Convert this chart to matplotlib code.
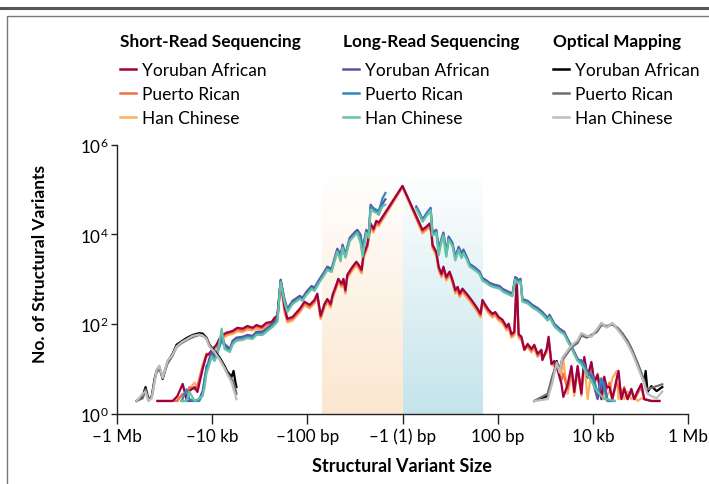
import numpy as np
import matplotlib
matplotlib.use('Agg')
import matplotlib.pyplot as plt
from matplotlib.lines import Line2D

plt.rcParams['font.family'] = ['Lato', 'DejaVu Sans']
plt.rcParams['mathtext.fontset'] = 'custom'
plt.rcParams['mathtext.rm'] = 'Lato'
plt.rcParams['mathtext.it'] = 'Lato:italic'
plt.rcParams['mathtext.bf'] = 'Lato:bold'

# ---------------- data ----------------
# x: signed log10 of structural-variant size in bp (deletions negative)
# y: log10 of number of structural variants

# Short-read sequencing
sr_x = [-5.15, -5.00, -4.83, -4.73, -4.62, -4.54, -4.48, -4.37, -4.31, -4.20,
        -4.12, -4.06, -3.99, -3.91, -3.85, -3.78, -3.70, -3.63, -3.57, -3.47,
        -3.36, -3.26, -3.15, -3.07, -2.96, -2.86, -2.75, -2.69, -2.63, -2.56,
        -2.48, -2.42, -2.31, -2.16, -2.06, -1.95, -1.85, -1.79, -1.72, -1.64,
        -1.58, -1.51, -1.47, -1.39, -1.35, -1.28, -1.24, -1.20, -1.16, -1.05,
        -0.97, -0.92, -0.86, -0.82, -0.74, -0.67, -0.61, -0.55, -0.50, 0.00,
        0.42, 0.50, 0.57, 0.61, 0.63, 0.71, 0.76, 0.82, 0.86, 0.92,
        0.99, 1.05, 1.11, 1.16, 1.20, 1.26, 1.30, 1.37, 1.45, 1.51,
        1.58, 1.64, 1.68, 1.74, 1.81, 1.89, 1.95, 2.02, 2.10, 2.19,
        2.23, 2.29, 2.35, 2.40, 2.44, 2.50, 2.56, 2.63, 2.71, 2.77,
        2.84, 2.92, 2.94, 3.03, 3.07, 3.13, 3.19, 3.26, 3.34, 3.38,
        3.47, 3.55, 3.61, 3.68, 3.76, 3.82, 3.89, 3.97, 4.03, 4.10,
        4.18, 4.24, 4.29, 4.35, 4.41, 4.50, 4.54, 4.60, 4.66, 4.73,
        4.81, 4.87, 4.94, 5.02, 5.08, 5.23, 5.40]
sr_yoruban = [0.29, 0.29, 0.29, 0.40, 0.67, 0.33, 0.51, 0.60, 0.49, 1.00,
              1.32, 1.34, 1.45, 1.54, 1.67, 1.76, 1.81, 1.83, 1.85, 1.92,
              1.90, 1.96, 1.92, 1.98, 1.94, 2.03, 2.05, 2.14, 2.19, 2.97,
              2.39, 2.12, 2.16, 2.34, 2.50, 2.43, 2.54, 2.68, 2.19, 2.45,
              2.56, 2.45, 2.65, 2.88, 3.01, 2.90, 3.01, 2.76, 3.10, 3.28,
              3.39, 3.32, 3.21, 3.55, 3.77, 4.24, 4.12, 4.30, 4.26, 5.08,
              4.10, 4.17, 4.24, 4.06, 3.77, 3.61, 3.28, 3.12, 3.28, 3.05,
              3.17, 2.99, 2.76, 2.83, 2.68, 2.79, 2.74, 2.65, 2.54, 2.45,
              2.34, 2.23, 2.54, 2.43, 2.32, 2.23, 2.27, 2.16, 2.10, 1.94,
              2.01, 1.78, 1.83, 3.03, 1.78, 1.72, 1.43, 1.56, 1.45, 1.54,
              1.34, 1.43, 1.20, 1.45, 1.72, 1.11, 1.18, 0.98, 0.67, 0.38,
              0.65, 1.07, 0.49, 1.07, 0.45, 1.27, 0.83, 1.16, 0.71, 0.87,
              0.33, 0.83, 0.60, 0.60, 0.33, 0.78, 0.96, 0.33, 0.56, 0.33,
              0.56, 0.33, 0.51, 0.67, 0.33, 0.29, 0.29]
sr_puerto = [0.29, 0.29, 0.29, 0.29, 0.45, 0.40, 0.60, 0.55, 0.62, 1.05,
             1.28, 1.36, 1.42, 1.52, 1.63, 1.72, 1.78, 1.80, 1.82, 1.88,
             1.86, 1.92, 1.90, 1.95, 1.91, 2.00, 2.02, 2.10, 2.15, 2.95,
             2.33, 2.08, 2.12, 2.30, 2.46, 2.39, 2.50, 2.63, 2.15, 2.41,
             2.52, 2.41, 2.61, 2.84, 2.97, 2.86, 2.97, 2.72, 3.06, 3.24,
             3.35, 3.28, 3.17, 3.51, 3.73, 4.20, 4.08, 4.26, 4.22, 5.06,
             4.06, 4.13, 4.20, 4.02, 3.73, 3.57, 3.24, 3.08, 3.24, 3.01,
             3.13, 2.95, 2.72, 2.79, 2.64, 2.75, 2.70, 2.61, 2.50, 2.41,
             2.30, 2.19, 2.50, 2.39, 2.28, 2.19, 2.23, 2.12, 2.06, 1.90,
             1.97, 1.74, 1.79, 2.95, 1.74, 1.68, 1.46, 1.52, 1.41, 1.50,
             1.30, 1.39, 1.25, 1.40, 1.65, 1.15, 1.10, 1.02, 0.75, 0.90,
             0.55, 1.00, 0.60, 1.00, 0.50, 1.20, 0.80, 1.10, 0.65, 0.90,
             0.45, 0.80, 0.55, 0.70, 0.33, 0.70, 0.60, 0.40, 0.60, 0.33,
             0.50, 0.33, 0.45, 0.60, 0.33, 0.29, 0.29]
sr_han = [0.29, 0.29, 0.29, 0.35, 0.40, 0.45, 0.55, 0.70, 0.60, 1.10,
          1.35, 1.30, 1.40, 1.48, 1.60, 1.68, 1.74, 1.77, 1.78, 1.84,
          1.82, 1.88, 1.86, 1.90, 1.87, 1.96, 1.98, 2.06, 2.11, 2.92,
          2.28, 2.04, 2.08, 2.26, 2.42, 2.35, 2.46, 2.59, 2.11, 2.37,
          2.48, 2.37, 2.57, 2.80, 2.93, 2.82, 2.93, 2.68, 3.02, 3.20,
          3.31, 3.24, 3.13, 3.47, 3.69, 4.16, 4.04, 4.22, 4.18, 5.05,
          4.02, 4.09, 4.16, 3.98, 3.69, 3.53, 3.20, 3.04, 3.20, 2.97,
          3.09, 2.91, 2.68, 2.75, 2.60, 2.71, 2.66, 2.57, 2.46, 2.37,
          2.26, 2.15, 2.46, 2.35, 2.24, 2.15, 2.19, 2.08, 2.02, 1.86,
          1.93, 1.70, 1.75, 2.90, 1.70, 1.64, 1.42, 1.49, 1.37, 1.46,
          1.27, 1.35, 1.22, 1.36, 1.70, 1.12, 1.05, 1.00, 0.90, 1.20,
          0.45, 0.90, 0.40, 0.95, 0.40, 1.15, 0.33, 0.95, 0.80, 0.75,
          0.70, 0.33, 0.40, 0.50, 0.80, 0.96, 0.33, 0.55, 0.33, 0.50,
          0.33, 0.40, 0.29, 0.35, 0.33, 0.29, 0.29]

# Long-read sequencing (deletion side and insertion side)
lr_x_del = [-4.64, -4.54, -4.48, -4.37, -4.27, -4.20, -4.16, -4.12, -4.06, -4.01,
            -3.95, -3.89, -3.80, -3.74, -3.63, -3.57, -3.49, -3.36, -3.26, -3.15,
            -3.07, -2.94, -2.86, -2.73, -2.63, -2.56, -2.48, -2.42, -2.31, -2.16,
            -2.10, -2.02, -1.91, -1.85, -1.74, -1.64, -1.58, -1.49, -1.43, -1.37,
            -1.30, -1.26, -1.20, -1.11, -1.01, -0.95, -0.88, -0.84, -0.76, -0.71,
            -0.67, -0.59, -0.50, -0.42, -0.36]
lr_x_ins = [0.29, 0.36, 0.42, 0.50, 0.59, 0.63, 0.71, 0.76, 0.82, 0.86,
            0.92, 0.97, 1.05, 1.11, 1.18, 1.24, 1.28, 1.35, 1.41, 1.47,
            1.56, 1.62, 1.68, 1.77, 1.83, 1.93, 2.04, 2.10, 2.19, 2.31,
            2.37, 2.42, 2.48, 2.52, 2.63, 2.73, 2.84, 2.94, 3.05, 3.09,
            3.19, 3.30, 3.40, 3.47, 3.55, 3.61, 3.68, 3.76, 3.82, 3.89,
            3.97, 4.03, 4.10, 4.18, 4.24, 4.31, 4.45]
lr_yoruban_del = [0.29, 0.29, 0.29, 0.29, 0.33, 0.51, 0.78, 1.00, 1.23, 1.40,
                  1.27, 1.40, 1.76, 1.56, 1.45, 1.63, 1.70, 1.72, 1.76, 1.74,
                  1.83, 1.83, 1.90, 2.01, 2.12, 2.99, 2.56, 2.34, 2.52, 2.63,
                  2.59, 2.72, 2.85, 2.81, 3.01, 3.17, 3.28, 3.23, 3.46, 3.68,
                  3.55, 3.77, 3.55, 3.92, 4.04, 4.10, 3.99, 3.68, 4.10, 3.99,
                  4.66, 4.55, 4.44, 4.68, 4.78]
lr_yoruban_ins = [4.62, 4.48, 4.33, 4.46, 4.59, 4.04, 4.10, 3.68, 3.90, 4.04,
                  3.59, 3.95, 3.81, 3.50, 3.72, 3.57, 3.66, 3.50, 3.34, 3.30,
                  3.23, 3.17, 3.03, 2.97, 2.92, 2.88, 2.85, 2.79, 2.74, 2.68,
                  3.05, 2.97, 3.01, 2.56, 2.52, 2.43, 2.36, 2.27, 2.14, 2.21,
                  2.01, 1.90, 1.83, 1.67, 1.52, 1.38, 1.23, 1.16, 1.05, 0.94,
                  0.83, 0.60, 0.33, 0.67, 0.71, 0.29, 0.29]
lr_puerto_del = [0.29, 0.55, 0.33, 0.29, 0.29, 0.45, 0.70, 1.07, 1.15, 1.30,
                 1.20, 1.35, 1.65, 1.50, 1.40, 1.58, 1.66, 1.68, 1.72, 1.70,
                 1.79, 1.79, 1.86, 1.97, 2.08, 2.96, 2.52, 2.30, 2.48, 2.59,
                 2.55, 2.68, 2.81, 2.77, 2.97, 3.13, 3.24, 3.19, 3.42, 3.64,
                 3.51, 3.73, 3.51, 3.88, 4.00, 4.06, 3.95, 3.64, 4.06, 3.95,
                 4.62, 4.57, 4.52, 4.80, 4.92]
lr_puerto_ins = [4.60, 4.46, 4.31, 4.44, 4.57, 4.01, 4.07, 3.64, 3.87, 4.01,
                 3.55, 3.91, 3.77, 3.46, 3.68, 3.50, 3.62, 3.47, 3.31, 3.27,
                 3.20, 3.14, 3.00, 2.94, 2.89, 2.85, 2.82, 2.76, 2.71, 2.65,
                 3.02, 2.94, 2.98, 2.53, 2.49, 2.40, 2.33, 2.24, 2.11, 2.18,
                 1.98, 1.87, 1.80, 1.64, 1.50, 1.36, 1.20, 1.20, 1.10, 0.90,
                 0.90, 0.75, 0.45, 0.80, 0.55, 0.29, 0.29]
lr_han_del = [0.29, 0.29, 0.50, 0.29, 0.35, 0.40, 0.60, 0.90, 1.10, 1.28,
              1.18, 1.33, 1.90, 1.45, 1.38, 1.55, 1.63, 1.65, 1.69, 1.67,
              1.76, 1.76, 1.83, 1.94, 2.05, 2.93, 2.49, 2.27, 2.45, 2.56,
              2.52, 2.65, 2.78, 2.74, 2.94, 3.10, 3.21, 3.16, 3.39, 3.61,
              3.40, 3.70, 3.48, 3.85, 3.97, 4.03, 3.80, 3.50, 4.03, 3.92,
              4.55, 4.50, 4.45, 4.62, 4.66]
lr_han_ins = [4.56, 4.42, 4.28, 4.40, 4.53, 3.97, 4.03, 3.53, 3.84, 3.97,
              3.50, 3.88, 3.74, 3.42, 3.65, 3.47, 3.58, 3.44, 3.28, 3.24,
              3.17, 3.11, 2.97, 2.91, 2.86, 2.82, 2.79, 2.73, 2.68, 2.62,
              2.99, 2.91, 2.95, 2.50, 2.46, 2.37, 2.30, 2.21, 2.08, 2.15,
              1.95, 1.84, 1.77, 1.62, 1.47, 1.33, 1.18, 1.10, 1.00, 0.85,
              0.75, 0.60, 0.50, 0.40, 0.33, 0.33, 0.29]

# Optical mapping (large deletions and large insertions)
om_x_del = [-5.59, -5.46, -5.40, -5.34, -5.27, -5.21, -5.17, -5.11, -5.04, -4.94,
            -4.83, -4.75, -4.64, -4.54, -4.41, -4.27, -4.20, -4.12, -4.06, -3.95,
            -3.85, -3.74, -3.68, -3.59, -3.55, -3.51, -3.49]
om_x_ins = [2.77, 3.05, 3.15, 3.24, 3.30, 3.36, 3.51, 3.57, 3.68, 3.76,
            3.87, 3.97, 4.08, 4.18, 4.29, 4.41, 4.52, 4.62, 4.73, 4.83,
            4.94, 5.02, 5.08, 5.11, 5.15, 5.23, 5.34, 5.46]
om_yoruban_del = [0.29, 0.40, 0.60, 0.33, 0.38, 0.78, 0.96, 1.05, 0.78, 1.16,
                  1.34, 1.54, 1.62, 1.69, 1.76, 1.80, 1.79, 1.70, 1.55, 1.40,
                  1.27, 1.07, 0.94, 0.83, 0.96, 0.70, 0.60]
om_yoruban_ins = [0.29, 0.40, 0.78, 1.18, 0.96, 1.23, 1.45, 1.52, 1.61, 1.78,
                  1.72, 1.74, 1.85, 2.01, 1.94, 2.01, 1.90, 1.78, 1.61, 1.40,
                  1.11, 0.89, 0.71, 0.96, 0.49, 0.62, 0.51, 0.60]
om_puerto_del = [0.29, 0.35, 0.55, 0.30, 0.40, 0.75, 0.92, 1.02, 0.82, 1.12,
                 1.30, 1.49, 1.58, 1.64, 1.71, 1.76, 1.74, 1.70, 1.55, 1.36,
                 1.24, 1.03, 0.90, 0.78, 0.70, 0.55, 0.45]
om_puerto_ins = [0.29, 0.45, 0.85, 1.10, 1.00, 1.20, 1.42, 1.50, 1.58, 1.75,
                 1.70, 1.76, 1.82, 1.98, 1.96, 1.99, 1.92, 1.80, 1.63, 1.42,
                 1.14, 0.92, 0.75, 0.60, 0.55, 0.58, 0.62, 0.66]
om_han_del = [0.29, 0.45, 0.50, 0.29, 0.35, 0.70, 0.98, 1.08, 0.80, 1.18,
              1.32, 1.50, 1.60, 1.66, 1.74, 1.77, 1.75, 1.66, 1.50, 1.38,
              1.22, 1.02, 0.88, 0.70, 0.55, 0.42, 0.33]
om_han_ins = [0.29, 0.33, 0.70, 1.15, 0.92, 1.25, 1.47, 1.54, 1.64, 1.80,
              1.74, 1.72, 1.88, 2.03, 1.92, 2.03, 1.88, 1.74, 1.56, 1.35,
              1.06, 0.84, 0.68, 0.55, 0.45, 0.40, 0.35, 0.50]

# axis ticks / labels
x_ticks = [-6, -4, -2, 0, 2, 4, 6]
x_tick_labels = ['\u20131 Mb', '\u201310 kb', '\u2013100 bp', '\u20131 (1) bp',
                 '100 bp', '10 kb', '1 Mb']
y_ticks = [1, 1e2, 1e4, 1e6]
y_tick_labels = [r'$10^{0}$', r'$10^{2}$', r'$10^{4}$', r'$10^{6}$']
shade_limit = 1.7           # |size| < 50 bp highlighted

populations = ['Yoruban African', 'Puerto Rican', 'Han Chinese']
sr_colors = ['#9e0142', '#f46d43', '#fdae61']
lr_colors = ['#5e4fa2', '#3288bd', '#66c2a5']
om_colors = ['#000000', '#6f6f6f', '#bdbdbd']

# ---------------- figure ----------------
W, H = 709, 485
fig = plt.figure(figsize=(W / 100, H / 100), dpi=100)
fig.patch.set_facecolor('white')

ax = fig.add_axes([117 / W, 1 - 415 / H, (688 - 117) / W, (415 - 145.5) / H])
ax.set_yscale('log')
ax.set_xlim(-6, 6)
ax.set_ylim(1, 1e6)

# gradient shading (x in data units, y in axes fraction): strong at bottom,
# fading upward; orange for deletions, blue for insertions, in one image
ncol, nrow = 200, 256
orange_rgb = np.array([251, 231, 207]) / 255
blue_rgb = np.array([196, 228, 235]) / 255
shade = np.zeros((nrow, ncol, 4))
shade[:, :ncol // 2, :3] = orange_rgb
shade[:, ncol // 2:, :3] = blue_rgb
shade[:, :, 3] = np.linspace(1.0, 0.0, nrow)[:, None]
shade_top = 0.90
ax.imshow(shade, extent=(-shade_limit, shade_limit, 0, shade_top), origin='lower',
          aspect='auto', zorder=0, interpolation='nearest',
          transform=ax.get_xaxis_transform())
ax.set_xlim(-6, 6)
ax.set_ylim(1, 1e6)

lw = 1.6

def join(a, b):
    return np.concatenate([np.asarray(a, float), [np.nan], np.asarray(b, float)])

# short read (Han first, Yoruban on top)
for ys, c in zip([sr_han, sr_puerto, sr_yoruban], sr_colors[::-1]):
    ax.plot(sr_x, 10 ** np.asarray(ys), color=c, lw=lw, zorder=3)

# long read
lr_x = join(lr_x_del, lr_x_ins)
for yd, yi, c in zip([lr_yoruban_del, lr_puerto_del, lr_han_del],
                     [lr_yoruban_ins, lr_puerto_ins, lr_han_ins], lr_colors):
    ax.plot(lr_x, 10 ** join(yd, yi), color=c, lw=lw, zorder=4)

# optical mapping (black first, light gray on top)
om_x = join(om_x_del, om_x_ins)
for yd, yi, c in zip([om_yoruban_del, om_puerto_del, om_han_del],
                     [om_yoruban_ins, om_puerto_ins, om_han_ins], om_colors):
    ax.plot(om_x, 10 ** join(yd, yi), color=c, lw=lw, zorder=5)

for s in ['top', 'right']:
    ax.spines[s].set_visible(False)
for s in ['left', 'bottom']:
    ax.spines[s].set_color('#222222')
    ax.spines[s].set_linewidth(1.0)

ax.set_xticks(x_ticks)
ax.set_xticklabels(x_tick_labels)
ax.set_yticks(y_ticks)
ax.set_yticklabels(y_tick_labels)
ax.yaxis.set_minor_locator(matplotlib.ticker.NullLocator())
ax.tick_params(axis='x', length=7, width=1.0, color='#222222', pad=3, labelsize=12.3)
ax.tick_params(axis='y', length=4, width=1.0, color='#222222', pad=2, labelsize=12.3)

fig.text(40 / W, 1 - 264 / H, 'No. of Structural Variants', rotation=90,
         ha='center', va='center', fontsize=12.5, fontweight='bold')
fig.text(402 / W, 1 - 467 / H, 'Structural Variant Size',
         ha='center', va='center', fontsize=13, fontweight='bold')

# legend blocks
titles = ['Short-Read Sequencing', 'Long-Read Sequencing', 'Optical Mapping']
col_x = [120, 343, 553]
for title, x0, cols in zip(titles, col_x, [sr_colors, lr_colors, om_colors]):
    fig.text(x0 / W, 1 - 42 / H, title, ha='left', va='center',
             fontsize=12.4, fontweight='bold')
    handles = [Line2D([0], [0], color=c, lw=1.8) for c in cols]
    fig.legend(handles, populations, loc='upper left',
               bbox_to_anchor=(x0 / W, 1 - 63 / H), frameon=False,
               fontsize=12.5, handlelength=0.95, handletextpad=0.3,
               labelspacing=0.45, borderpad=0, borderaxespad=0)

# frame decorations
fig.add_artist(Line2D([0, 1], [1 - 9 / H, 1 - 9 / H], transform=fig.transFigure,
                      color='#555555', lw=2.2))
fig.add_artist(Line2D([7 / W, 7 / W, 1], [0, 1 - 17 / H, 1 - 17 / H],
                      transform=fig.transFigure, color='#777777', lw=1.0))

fig.savefig('out.png', dpi=100)
